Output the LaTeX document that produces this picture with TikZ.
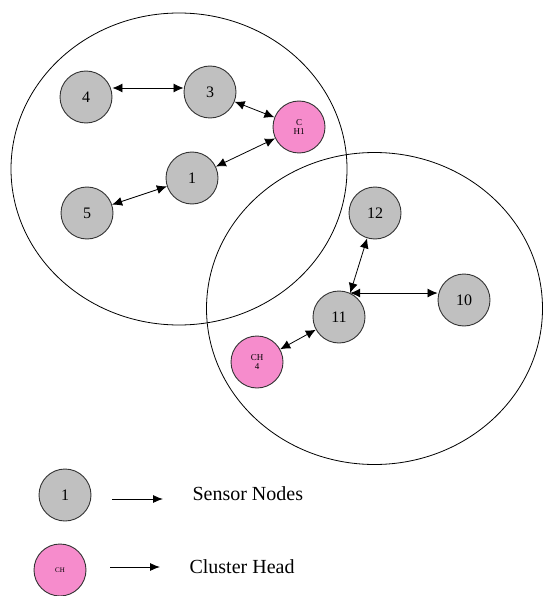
\documentclass[tikz,border=0pt]{standalone}
\usepackage{fontspec}
\setmainfont{Liberation Serif}
\usetikzlibrary{arrows.meta}
\definecolor{sensorgray}{RGB}{192,192,192}
\definecolor{headpink}{RGB}{246,140,204}

\begin{document}
\begin{tikzpicture}[x=1pt,y=-1pt,
     sensor/.style={circle,draw=black!80,line width=0.9pt,fill=sensorgray,
       minimum size=52pt,inner sep=0pt,font=\fontsize{16}{16}\selectfont},
     head/.style={sensor,fill=headpink,align=center,
       font=\fontsize{9}{9.5}\selectfont},
     link/.style={{Latex[length=10pt,width=9pt]}-{Latex[length=10pt,width=9pt]},
       line width=0.8pt},
     point/.style={-{Latex[length=10pt,width=8pt]},line width=0.9pt},
     lab/.style={font=\fontsize{20}{20}\selectfont,anchor=base west}]
    \useasboundingbox (0,0) rectangle (543,596);
    % the two clusters
    \draw[line width=0.8pt] (179,169) ellipse [x radius=168, y radius=156];
    \draw[line width=0.8pt] (374.5,308.5) ellipse [x radius=168, y radius=156];
    \node[sensor] (n4) at (86,97) {4};
    \node[sensor] (n3) at (210,92) {3};
    \node[head] (ch1) at (299,127) {C\\H1};
    \node[sensor] (n1) at (192,178) {1};
    \node[sensor] (n5) at (87,213) {5};
    \node[sensor] (n12) at (375,213) {12};
    \node[sensor] (n10) at (464,300) {10};
    \node[sensor] (n11) at (339,317) {11};
    \node[head] (ch4) at (257,362) {CH\\4};
    \draw[link] ([yshift=9pt]n4.east) -- ([yshift=4pt]n3.west);
    \draw[link] (n3) -- (ch1);
    \draw[link] (n1) -- (ch1);
    \draw[link] (n5) -- (n1);
    \coordinate (hub) at (n11.65);
    \draw[link] (n12) -- (hub);
    \draw[link] (hub) -- (hub -| n10.west);
    \draw[link] (ch4) -- (n11);
    % legend
    \node[sensor] (leg1) at (65,495) {1};
    \node[head,font=\fontsize{7}{7}\selectfont] (legch) at (60,570) {CH};
    \coordinate (from1) at (112,499);
    \coordinate (to1) at (163,499);
    \coordinate (from2) at (110,567);
    \coordinate (to2) at (160,567);
    \draw[point] (from1) -- (to1);
    \draw[point] (from2) -- (to2);
    \node[lab] (txt1) at (189,500) {Sensor Nodes};
    \node[lab] (txt2) at (186,573) {Cluster Head};
  \end{tikzpicture}
\end{document}
